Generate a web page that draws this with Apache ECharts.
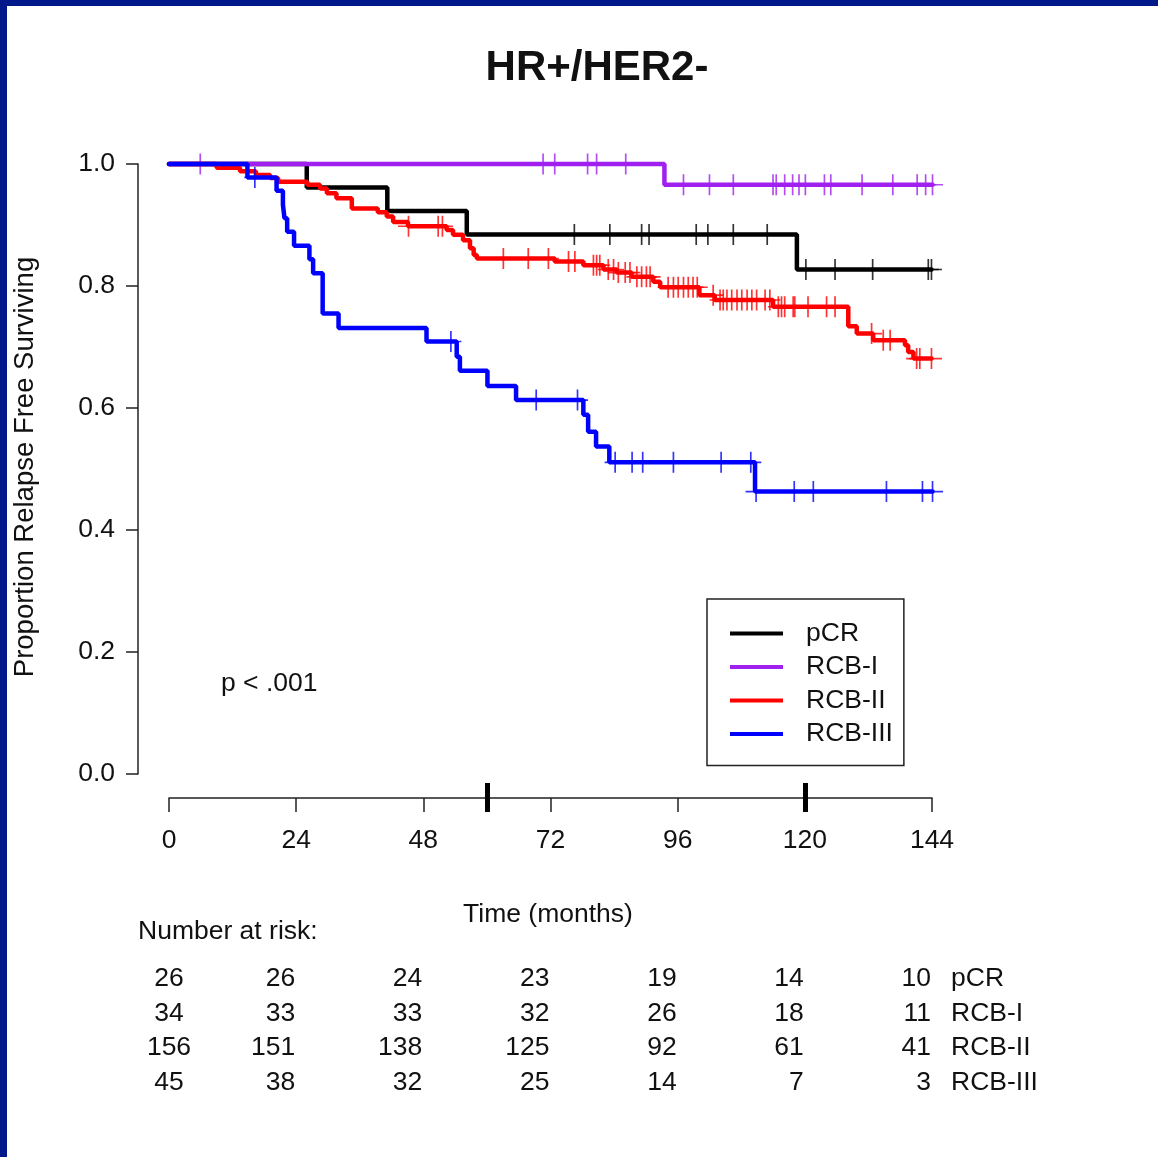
<!DOCTYPE html>
<html><head><meta charset="utf-8">
<script src="https://cdn.jsdelivr.net/npm/echarts@6/dist/echarts.min.js"></script>
<style>
html,body{margin:0;padding:0;background:#fff;}
#chart{position:absolute;left:0;top:0;width:1158px;height:1157px;}
.frameL{position:absolute;left:0;top:0;width:7px;height:1157px;background:#00188A;z-index:5}
.frameT{position:absolute;left:0;top:0;width:1158px;height:6px;background:#00188A;z-index:5}
</style></head><body>
<div id="chart"></div><div class="frameL"></div><div class="frameT"></div>
<script>
// ---------- data ----------
const groups = ['pCR', 'RCB-I', 'RCB-II', 'RCB-III'];
const xTicks = [0, 24, 48, 72, 96, 120, 144];
const landmarkTicks = [60, 120];

// Kaplan–Meier steps: [time (months), survival]
const pcrSteps = [[0,1],[26.0,0.9615],[41.2,0.923],[56.2,0.8846],[118.5,0.827],[143.9,0.827]];
const pcrCensor = [76.5,83.2,89.2,90.6,99.5,101.7,106.5,112.9,120.2,125.7,132.8,143.3,143.9];

const rcb1Steps = [[0,1],[93.5,0.966],[144.1,0.966]];
const rcb1Censor = [5.9,70.6,72.8,79.0,80.7,86.2,97.1,102.0,106.5,114.0,114.6,116.2,117.7,118.9,120.1,123.7,124.9,130.8,136.6,141.2,142.8,144.1];

const rcb2Steps = [[0,1],[9.0,0.994],[13.4,0.988],[16.4,0.982],[19.1,0.977],[20.6,0.971],[26.1,0.966],[28.5,0.960],
  [29.8,0.952],[31.6,0.944],[34.5,0.927],[39.4,0.921],[41.1,0.914],[42.3,0.905],[45.1,0.898],[52.4,0.892],
  [53.6,0.884],[55.5,0.875],[56.8,0.862],[57.5,0.851],[58.1,0.845],[72.8,0.840],[78.2,0.834],[82.0,0.827],
  [84.5,0.822],[87.3,0.815],[91.4,0.807],[92.7,0.798],[100.1,0.785],[103.0,0.777],[114.0,0.766],[128.2,0.734],
  [129.8,0.722],[132.9,0.711],[138.9,0.703],[139.5,0.692],[140.5,0.681],[143.9,0.681]];
const rcb2Censor = [45.2,50.8,51.6,63.1,67.8,71.6,75.4,76.6,80.1,80.7,81.3,82.9,83.9,84.8,86.1,87.0,88.3,89.2,90.1,90.8,
  94.2,95.2,96.1,97.1,98.0,98.9,99.7,102.7,104.0,104.6,105.3,106.2,107.2,108.1,109.1,110.0,110.9,112.5,113.4,
  115.0,115.6,116.2,117.8,118.1,120.6,124.1,125.7,132.6,134.8,136.1,141.1,141.7,143.9];

const rcb3Steps = [[0,1],[14.8,0.978],[20.3,0.956],[21.5,0.933],[21.8,0.911],[22.3,0.889],[23.6,0.866],[26.5,0.844],
  [27.2,0.821],[29.0,0.755],[32.0,0.731],[48.6,0.709],[54.3,0.684],[54.9,0.661],[60.1,0.636],[65.5,0.613],
  [78.2,0.589],[79.1,0.561],[80.6,0.537],[83.1,0.511],[110.6,0.463],[144.1,0.463]];
const rcb3Censor = [16.2,53.2,69.3,77.1,84.2,87.4,89.4,95.2,104.2,109.8,110.8,118.0,121.6,135.4,142.2,144.1];

// numbers at risk
const riskTimes = [0, 24, 48, 72, 96, 120, 144];
const riskPCR  = [26, 26, 24, 23, 19, 14, 10];
const riskRCB1 = [34, 33, 33, 32, 26, 18, 11];
const riskRCB2 = [156, 151, 138, 125, 92, 61, 41];
const riskRCB3 = [45, 38, 32, 25, 14, 7, 3];

// ---------- chart ----------
const colors = ['#000000', '#A020F0', '#FF0000', '#0000FF'];
const stepsAll = [pcrSteps, rcb1Steps, rcb2Steps, rcb3Steps];
const censorAll = [pcrCensor, rcb1Censor, rcb2Censor, rcb3Censor];
const riskAll = [riskPCR, riskRCB1, riskRCB2, riskRCB3];
const FONT = '"Liberation Sans", Arial, Helvetica, sans-serif';
const CROSS = 'path://M-0.8,-10L0.8,-10L0.8,-0.8L10,-0.8L10,0.8L0.8,0.8L0.8,10L-0.8,10L-0.8,0.8L-10,0.8L-10,-0.8L-0.8,-0.8Z';

function valueAt(steps, t) {
  let v = steps[0][1];
  for (const s of steps) { if (s[0] <= t) v = s[1]; }
  return v;
}

const series = [];
groups.forEach((g, i) => {
  series.push({
    name: g, type: 'line', step: 'end', data: stepsAll[i], showSymbol: false, symbol: 'none',
    lineStyle: { color: colors[i], width: 4.5, cap: 'round' }, itemStyle: { color: colors[i] },
    clip: false, silent: true, z: 2 + i
  });
  series.push({
    name: g + ' censored', type: 'scatter', symbol: CROSS, symbolSize: 21,
    data: censorAll[i].map(t => [t, valueAt(stepsAll[i], t)]),
    itemStyle: { color: colors[i] }, clip: false, silent: true, z: 2 + i
  });
});

const chart = echarts.init(document.getElementById('chart'), null, { renderer: 'canvas' });
chart.setOption({
  animation: false,
  backgroundColor: '#ffffff',
  textStyle: { fontFamily: FONT },
  grid: { left: 169, right: 226, top: 164, bottom: 383 },
  xAxis: [{
    type: 'value', min: 0, max: 144, interval: 24, offset: 24, position: 'bottom',
    axisLine: { show: true, onZero: false, lineStyle: { color: '#222', width: 1.5 } },
    axisTick: { show: true, length: 14, lineStyle: { color: '#222', width: 1.5 } },
    axisLabel: { margin: 29, fontSize: 26.5, color: '#111', fontFamily: FONT },
    splitLine: { show: false }
  }, {
    type: 'value', min: 0, max: 144, offset: 9, position: 'bottom',
    axisLine: { show: false, onZero: false },
    axisTick: { show: true, length: 29, customValues: landmarkTicks, lineStyle: { color: '#000', width: 5 } },
    axisLabel: { show: false },
    splitLine: { show: false }
  }],
  yAxis: {
    type: 'value', min: 0, max: 1, interval: 0.2, offset: 31, position: 'left',
    axisLine: { show: true, onZero: false, lineStyle: { color: '#222', width: 1.5 } },
    axisTick: { show: true, length: 12, lineStyle: { color: '#222', width: 1.5 } },
    axisLabel: { margin: 23, fontSize: 26.5, color: '#111', fontFamily: FONT, formatter: v => v.toFixed(1) },
    splitLine: { show: false }
  },
  legend: {
    data: groups, orient: 'vertical', left: 707, top: 599,
    padding: [21, 11, 18, 23], itemGap: 6.5, itemWidth: 53, itemHeight: 4, icon: 'rect',
    borderColor: '#222', borderWidth: 1.5, borderRadius: 0, backgroundColor: '#fff',
    textStyle: { fontSize: 26.5, lineHeight: 26, color: '#111', fontFamily: FONT, padding: [0, 0, 0, 18] },
    selectedMode: false
  },
  series: series
});

// ---------- text ----------
const gfx = [];
function txt(x, y, s, o) {
  gfx.push({ type: 'text', x: x, y: y, rotation: (o && o.rot) || 0, silent: true,
    style: { text: s, fill: '#111', font: ((o && o.weight) || 'normal') + ' ' + ((o && o.size) || 26.5) + 'px ' + FONT,
      textAlign: (o && o.align) || 'left', textVerticalAlign: 'middle' } });
}
txt(597, 68, 'HR+/HER2-', { size: 42, weight: 'bold', align: 'center' });
txt(25, 467, 'Proportion Relapse Free Surviving', { align: 'center', rot: Math.PI / 2, size: 27.5 });
txt(221, 684, 'p < .001', {});
txt(548, 915, 'Time (months)', { align: 'center' });
txt(138, 932, 'Number at risk:', {});
const rowY = [979, 1014, 1048, 1083];
riskAll.forEach((row, r) => {
  row.forEach((n, c) => {
    const px = chart.convertToPixel({ xAxisIndex: 0 }, riskTimes[c]);
    if (c === 0) txt(px, rowY[r], String(n), { align: 'center' });
    else txt(px - 1, rowY[r], String(n), { align: 'right' });
  });
  const pEnd = chart.convertToPixel({ xAxisIndex: 0 }, riskTimes[riskTimes.length - 1]);
  txt(pEnd + 19, rowY[r], groups[r], {});
});
chart.setOption({ graphic: gfx });
</script></body></html>
